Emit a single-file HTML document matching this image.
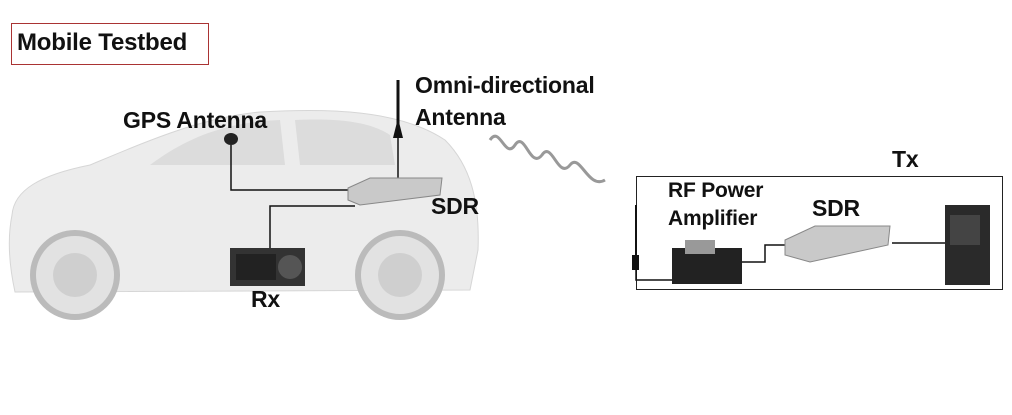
<!DOCTYPE html>
<html><head><meta charset="utf-8"><style>
body{margin:0;width:1012px;height:415px;background:#fff;position:relative;overflow:hidden;font-family:"Liberation Sans",sans-serif;}
.t{position:absolute;font-weight:bold;font-size:23px;color:#111;white-space:nowrap;letter-spacing:-0.2px;}
</style></head><body>
<div style="position:absolute;left:11px;top:23px;width:196px;height:40px;border:1px solid #a33;"></div>
<div class="t" style="left:17px;top:29px;font-size:24px;">Mobile Testbed</div>
<svg width="1012" height="415" style="position:absolute;left:0;top:0">
<path d="M12,215 C14,190 40,175 90,165 C150,140 200,118 260,112 C330,108 400,110 445,140 C470,165 480,200 478,250 L470,290 L15,292 C8,260 8,235 12,215 Z" fill="#ececec" stroke="#d6d6d6"/>
<path d="M150,165 C190,135 230,122 280,120 L285,165 Z" fill="#dcdcdc"/>
<path d="M295,120 C340,118 370,122 390,135 L395,165 L300,165 Z" fill="#dcdcdc"/>
<circle cx="75" cy="275" r="42" fill="#e2e2e2" stroke="#bbb" stroke-width="6"/>
<circle cx="75" cy="275" r="22" fill="#cfcfcf"/>
<circle cx="400" cy="275" r="42" fill="#e2e2e2" stroke="#bbb" stroke-width="6"/>
<circle cx="400" cy="275" r="22" fill="#cfcfcf"/>
<ellipse cx="231" cy="139" rx="7" ry="6" fill="#222"/>
<polyline points="231,145 231,190 350,190" fill="none" stroke="#111" stroke-width="1.5"/>
<line x1="398" y1="80" x2="398" y2="125" stroke="#111" stroke-width="3"/>
<path d="M393,138 L398,118 L403,138 Z" fill="#111"/>
<line x1="398" y1="138" x2="398" y2="180" stroke="#111" stroke-width="1.5"/>
<path d="M348,188 L370,178 L442,178 L440,195 L360,205 L348,200 Z" fill="#c9c9c9" stroke="#888"/>
<polyline points="355,206 270,206 270,248" fill="none" stroke="#111" stroke-width="1.5"/>
<rect x="230" y="248" width="75" height="38" fill="#333"/>
<circle cx="290" cy="267" r="12" fill="#555"/>
<rect x="236" y="254" width="40" height="26" fill="#222"/>
<path d="M490,140 C500,125 505,160 515,145 C525,130 530,170 542,155 C552,140 558,180 570,165 C580,152 588,190 605,180" fill="none" stroke="#999" stroke-width="3"/>
<rect x="636.5" y="176.5" width="366" height="113" fill="none" stroke="#222"/>
<line x1="636" y1="205" x2="636" y2="255" stroke="#111" stroke-width="2"/>
<rect x="632" y="255" width="7" height="15" fill="#111"/>
<polyline points="636,270 636,280 680,280" fill="none" stroke="#111" stroke-width="1.5"/>
<rect x="672" y="248" width="70" height="36" fill="#222"/>
<rect x="685" y="240" width="30" height="14" fill="#999"/>
<polyline points="742,262 765,262 765,245 785,245" fill="none" stroke="#111" stroke-width="1.5"/>
<path d="M785,240 L815,226 L890,226 L888,245 L810,262 L785,255 Z" fill="#c9c9c9" stroke="#888"/>
<line x1="892" y1="243" x2="945" y2="243" stroke="#111" stroke-width="1.5"/>
<rect x="945" y="205" width="45" height="80" fill="#2a2a2a"/>
<rect x="950" y="215" width="30" height="30" fill="#444"/>
</svg>
<div class="t" style="left:123px;top:107px;">GPS Antenna</div>
<div class="t" style="left:415px;top:72px;">Omni-directional</div>
<div class="t" style="left:415px;top:104px;">Antenna</div>
<div class="t" style="left:431px;top:193px;">SDR</div>
<div class="t" style="left:251px;top:286px;">Rx</div>
<div class="t" style="left:892px;top:146px;">Tx</div>
<div class="t" style="left:668px;top:179px;font-size:21px;">RF Power</div>
<div class="t" style="left:668px;top:207px;font-size:21px;">Amplifier</div>
<div class="t" style="left:812px;top:195px;">SDR</div>
</body></html>
